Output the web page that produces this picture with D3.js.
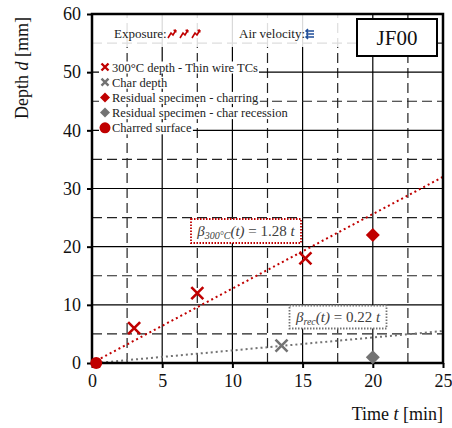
<!DOCTYPE html>
<html lang="en">
<head>
<meta charset="UTF-8">
<title>JF00</title>
<script src="https://d3js.org/d3.v7.min.js"></script>
<style>
  body { margin: 0; background: #fff; }
</style>
</head>
<body>
<svg id="svg" width="452" height="428"></svg>
<script>
// data
var xTicks = [0, 5, 10, 15, 20, 25]
var yTicks = [0, 10, 20, 30, 40, 50, 60]
var tc300 = [[3, 6], [7.5, 12], [15.2, 18]]          // 300°C depth - thin wire TCs
var charDepth = [[13.5, 3]]                          // char depth
var resCharring = [[20, 22]]                         // residual specimen - charring
var resRecession = [[20, 1]]                         // residual specimen - char recession
var charredSurface = [[0.3, 0]]                      // charred surface
var beta300 = 1.28
var betaRec = 0.22
var legendLabels = ["300°C depth - Thin wire TCs", "Char depth", "Residual specimen - charring",
  "Residual specimen - char recession", "Charred surface"]

var red = "#c00000", grey = "#737373"
var serif = "'Liberation Serif', serif"

var svg = d3.select("#svg")
var x = d3.scaleLinear().domain([0, 25]).range([92, 443])
var y = d3.scaleLinear().domain([0, 60]).range([363, 14])

// grid
var grid = svg.append("g")
d3.range(2.5, 25, 2.5).forEach(function (t) {
  var major = t % 5 === 0
  grid.append("line").attr("x1", x(t)).attr("x2", x(t)).attr("y1", y(0)).attr("y2", y(60))
    .attr("stroke", major ? "#000" : "#222").attr("stroke-width", 1.2)
    .attr("stroke-dasharray", major ? null : "10,5")
})
d3.range(5, 60, 5).forEach(function (d) {
  var major = d % 10 === 0
  grid.append("line").attr("x1", x(0)).attr("x2", x(25)).attr("y1", y(d)).attr("y2", y(d))
    .attr("stroke", major ? "#000" : "#222").attr("stroke-width", 1.2)
    .attr("stroke-dasharray", major ? null : "10,5")
})

// exposure row fades the grid
svg.append("rect").attr("x", x(0) + 1).attr("y", y(60) + 1).attr("width", 265).attr("height", 32)
  .attr("fill", "#fff").attr("opacity", 0.85)

// fitted lines
svg.append("line").attr("x1", x(0)).attr("y1", y(0)).attr("x2", x(25)).attr("y2", y(beta300 * 25))
  .attr("stroke", red).attr("stroke-width", 2).attr("stroke-dasharray", "2,3")
svg.append("line").attr("x1", x(0.3)).attr("y1", y(0)).attr("x2", x(25)).attr("y2", y(betaRec * 25))
  .attr("stroke", grey).attr("stroke-width", 2).attr("stroke-dasharray", "2,3")

// frame
svg.append("rect").attr("x", x(0)).attr("y", y(60)).attr("width", x(25) - x(0)).attr("height", y(0) - y(60))
  .attr("fill", "none").attr("stroke", "#000").attr("stroke-width", 2.5)

// axes
var yAxis = svg.append("g").attr("transform", "translate(" + x(0) + ",0)")
  .call(d3.axisLeft(y).tickValues(yTicks).tickSize(5).tickPadding(6))
var xAxis = svg.append("g").attr("transform", "translate(0," + y(0) + ")")
  .call(d3.axisBottom(x).tickValues(xTicks).tickSize(5).tickPadding(6))
;[xAxis, yAxis].forEach(function (a) {
  a.select(".domain").remove()
  a.selectAll(".tick line").attr("stroke", "#000").attr("stroke-width", 2)
  a.selectAll("text").attr("font-size", 18).attr("fill", "#111")
})

// axis titles
var yt = svg.append("text").attr("transform", "translate(28,68) rotate(-90)")
  .attr("text-anchor", "middle").attr("font-size", 18).attr("fill", "#111")
yt.append("tspan").text("Depth ")
yt.append("tspan").attr("font-style", "italic").text("d")
yt.append("tspan").text(" [mm]")
var xt = svg.append("text").attr("x", 443).attr("y", 420).attr("text-anchor", "end")
  .attr("font-size", 18).attr("fill", "#111")
xt.append("tspan").text("Time ")
xt.append("tspan").attr("font-style", "italic").text("t")
xt.append("tspan").text(" [min]")

// equation labels
function eqBox(cx, cy, w, h, color, sub, val) {
  svg.append("rect").attr("x", cx - w / 2).attr("y", cy - h / 2).attr("width", w).attr("height", h)
    .attr("fill", "#fff").attr("stroke", color).attr("stroke-width", 1.8).attr("stroke-dasharray", "1.5,1.5")
  var t = svg.append("text").attr("x", cx).attr("y", cy + 5).attr("text-anchor", "middle")
    .attr("font-size", 15).attr("fill", "#404040")
  t.append("tspan").attr("font-style", "italic").text("β")
  t.append("tspan").attr("font-style", "italic").attr("font-size", 10).attr("dy", 3).text(sub)
  t.append("tspan").attr("font-style", "italic").attr("dy", -3).text("(t)")
  t.append("tspan").text(" = " + val + " ")
  t.append("tspan").attr("font-style", "italic").text("t")
}
eqBox(246, 231, 110, 24, red, "300°C", beta300)
eqBox(338, 317, 97, 23, grey, "rec", betaRec)

// markers
function cross(g, data, color) {
  g.selectAll(null).data(data).enter().append("path")
    .attr("transform", function (d) { return "translate(" + x(d[0]) + "," + y(d[1]) + ")" })
    .attr("d", "M-6,-6L6,6M-6,6L6,-6").attr("stroke", color).attr("stroke-width", 2.6).attr("fill", "none")
}
function diamond(g, data, color) {
  g.selectAll(null).data(data).enter().append("path")
    .attr("transform", function (d) { return "translate(" + x(d[0]) + "," + y(d[1]) + ")" })
    .attr("d", "M0,-7L7,0L0,7L-7,0Z").attr("fill", color)
}
var marks = svg.append("g")
cross(marks, tc300, red)
cross(marks, charDepth, grey)
diamond(marks, resCharring, red)
diamond(marks, resRecession, grey)
marks.selectAll(null).data(charredSurface).enter().append("circle")
  .attr("cx", function (d) { return x(d[0]) }).attr("cy", function (d) { return y(d[1]) })
  .attr("r", 6).attr("fill", red)

// legend
var leg = svg.append("g")
legendLabels.forEach(function (lab, i) {
  var cy = 67 + i * 15.2
  var t = leg.append("text").attr("x", 112).attr("y", cy + 4.5).attr("font-size", 12.5)
    .attr("fill", "#222").style("font-family", serif).text(lab)
  var bb = t.node().getBBox()
  leg.insert("rect", "text").attr("x", 99).attr("y", bb.y + 1).attr("width", bb.x + bb.width - 99 + 1)
    .attr("height", bb.height - 2).attr("fill", "#fff")
  var m = leg.append("g").attr("transform", "translate(105," + cy + ")")
  if (i === 0 || i === 1) m.append("path").attr("d", "M-3.5,-3.5L3.5,3.5M-3.5,3.5L3.5,-3.5")
    .attr("stroke", i === 0 ? red : grey).attr("stroke-width", 2.4)
  else if (i === 2 || i === 3) m.append("path").attr("d", "M0,-5L5,0L0,5L-5,0Z").attr("fill", i === 2 ? red : grey)
  else m.append("circle").attr("r", 5.5).attr("fill", red)
})

// exposure row
svg.append("text").attr("x", 114).attr("y", 38).attr("font-size", 13).attr("fill", "#222").text("Exposure:")
;[172, 184, 196].forEach(function (cx) {
  svg.append("path").attr("transform", "translate(" + cx + ",34)")
    .attr("d", "M-4,4L-1,-1L1,1L4,-4M4,-4L1.5,-3.5M4,-4L3.5,-1.5")
    .attr("stroke", red).attr("stroke-width", 1.6).attr("fill", "none")
})
svg.append("text").attr("x", 239).attr("y", 38).attr("font-size", 13).attr("fill", "#222").text("Air velocity:")
svg.append("path").attr("transform", "translate(310,34)")
  .attr("d", "M-4,-3H4M-4,0H4M-4,3H4M-2,-5L-4,-3L-2,-1M-2,1L-4,3L-2,5")
  .attr("stroke", "#1f4e99").attr("stroke-width", 1.5).attr("fill", "none")

// specimen label
svg.append("rect").attr("x", 357).attr("y", 19).attr("width", 80).attr("height", 37)
  .attr("fill", "#fff").attr("stroke", "#000").attr("stroke-width", 2)
svg.append("text").attr("x", 397).attr("y", 45).attr("text-anchor", "middle")
  .attr("font-size", 21).attr("fill", "#111").text("JF00")

// one serif face for every label
svg.selectAll("text").style("font-family", serif)
</script>
</body>
</html>
